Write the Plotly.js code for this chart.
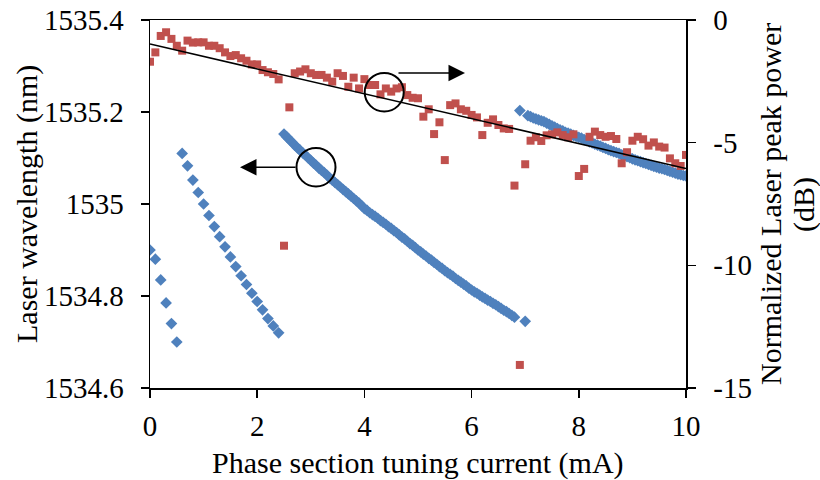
<!DOCTYPE html>
<html>
<head>
<meta charset="utf-8">
<script src="https://cdn.plot.ly/plotly-3.0.1.min.js"></script>
<style>
  html, body { margin: 0; padding: 0; background: #fff; }
  #chart { width: 820px; height: 480px; }
</style>
</head>
<body>
<div id="chart"></div>
<script>
// ---- Wavelength (left axis, nm), blue diamonds ----
const wlCurrent = [
  0.0, 0.1, 0.2, 0.3, 0.4, 0.5,
  0.6, 0.7, 0.8, 0.9, 1.0, 1.1, 1.2, 1.3, 1.4, 1.5, 1.6, 1.7, 1.8, 1.9, 2.0, 2.1, 2.2, 2.3, 2.4,
  2.50, 2.55, 2.60, 2.65, 2.70, 2.75, 2.80, 2.85, 2.90, 2.95, 3.00, 3.05, 3.10, 3.15, 3.20, 3.25,
  3.30, 3.35, 3.40, 3.45, 3.50, 3.55, 3.60, 3.65, 3.70, 3.75, 3.80, 3.85, 3.90, 3.95, 4.00, 4.05,
  4.10, 4.15, 4.20, 4.25, 4.30, 4.35, 4.40, 4.45, 4.50, 4.55, 4.60, 4.65, 4.70, 4.75, 4.80, 4.85,
  4.90, 4.95, 5.00, 5.05, 5.10, 5.15, 5.20, 5.25, 5.30, 5.35, 5.40, 5.45, 5.50, 5.55, 5.60, 5.65,
  5.70, 5.75, 5.80, 5.85, 5.90, 5.95, 6.00, 6.05, 6.10, 6.15, 6.20, 6.25, 6.30, 6.35, 6.40, 6.45,
  6.50, 6.55, 6.60, 6.65, 6.70, 6.75, 6.80,
  6.90, 7.00, 7.05, 7.10, 7.15, 7.20, 7.25, 7.30, 7.35, 7.40, 7.45, 7.50, 7.55, 7.60, 7.65, 7.70,
  7.75, 7.80, 7.85, 7.90, 7.95, 8.00, 8.05, 8.10, 8.15, 8.20, 8.25, 8.30, 8.35, 8.40, 8.45, 8.50,
  8.55, 8.60, 8.65, 8.70, 8.75, 8.80, 8.85, 8.90, 8.95, 9.00, 9.05, 9.10, 9.15, 9.20, 9.25, 9.30,
  9.35, 9.40, 9.45, 9.50, 9.55, 9.60, 9.65, 9.70, 9.75, 9.80, 9.85, 9.90, 9.95, 10.00
];
const wavelength = [
  1534.900, 1534.880, 1534.835, 1534.785, 1534.740, 1534.700,
  1535.110, 1535.083, 1535.052, 1535.025, 1535.000, 1534.975, 1534.951, 1534.929, 1534.907, 1534.885,
  1534.864, 1534.844, 1534.825, 1534.806, 1534.788, 1534.770, 1534.751, 1534.735, 1534.720,
  1535.152, 1535.146, 1535.140, 1535.134, 1535.128, 1535.122, 1535.117, 1535.111, 1535.106, 1535.100,
  1535.095, 1535.089, 1535.084, 1535.078, 1535.073, 1535.068, 1535.063, 1535.057, 1535.052, 1535.047,
  1535.042, 1535.037, 1535.032, 1535.027, 1535.022, 1535.017, 1535.012, 1535.007, 1535.002, 1534.996,
  1534.990, 1534.986, 1534.981, 1534.977, 1534.973, 1534.969, 1534.964, 1534.960, 1534.956, 1534.951,
  1534.947, 1534.942, 1534.938, 1534.933, 1534.928, 1534.924, 1534.919, 1534.914, 1534.910, 1534.905,
  1534.900, 1534.896, 1534.891, 1534.887, 1534.882, 1534.878, 1534.873, 1534.869, 1534.864, 1534.860,
  1534.855, 1534.851, 1534.847, 1534.843, 1534.838, 1534.834, 1534.830, 1534.826, 1534.822, 1534.817,
  1534.813, 1534.809, 1534.806, 1534.802, 1534.798, 1534.795, 1534.791, 1534.788, 1534.784, 1534.781,
  1534.777, 1534.773, 1534.769, 1534.766, 1534.762, 1534.758, 1534.754,
  1535.203, 1534.745, 1535.192, 1535.190, 1535.187, 1535.185, 1535.183, 1535.181, 1535.179, 1535.176,
  1535.173, 1535.170, 1535.167, 1535.164, 1535.161, 1535.159, 1535.156, 1535.154, 1535.152, 1535.149,
  1535.147, 1535.145, 1535.143, 1535.140, 1535.138, 1535.135, 1535.133, 1535.130, 1535.128, 1535.126,
  1535.123, 1535.121, 1535.118, 1535.116, 1535.114, 1535.112, 1535.110, 1535.107, 1535.105, 1535.103,
  1535.101, 1535.098, 1535.096, 1535.094, 1535.092, 1535.090, 1535.088, 1535.086, 1535.084, 1535.082,
  1535.080, 1535.078, 1535.077, 1535.075, 1535.073, 1535.071, 1535.069, 1535.067, 1535.065, 1535.064,
  1535.062, 1535.061
];

// ---- Normalized peak power (right axis, dB), red squares ----
const pwCurrent = [
  0.0, 0.1, 0.2, 0.3, 0.4, 0.5, 0.6, 0.7, 0.8, 0.9,
  1.0, 1.1, 1.2, 1.3, 1.4, 1.5, 1.6, 1.7, 1.8, 1.9,
  2.0, 2.1, 2.2, 2.3, 2.4, 2.5, 2.6, 2.7, 2.8, 2.9,
  3.0, 3.1, 3.2, 3.3, 3.4, 3.5, 3.6, 3.7, 3.8, 3.9,
  4.0, 4.1, 4.2, 4.3, 4.4, 4.5, 4.6, 4.7, 4.8, 4.9,
  5.0, 5.1, 5.2, 5.3, 5.4, 5.5, 5.6, 5.7, 5.8, 5.9,
  6.0, 6.1, 6.2, 6.3, 6.4, 6.5, 6.6, 6.7, 6.8, 6.9,
  7.0, 7.1, 7.2, 7.3, 7.4, 7.5, 7.6, 7.7, 7.8, 7.9,
  8.0, 8.1, 8.2, 8.3, 8.4, 8.5, 8.6, 8.7, 8.8, 8.9,
  9.0, 9.1, 9.2, 9.3, 9.4, 9.5, 9.6, 9.7, 9.8, 9.9, 10.0
];
const peakPower = [
  -1.70, -1.32, -0.65, -0.50, -0.77, -1.05, -1.25, -0.84, -0.92, -0.91,
  -0.91, -1.05, -1.05, -1.15, -1.32, -1.47, -1.43, -1.56, -1.66, -1.81,
  -1.81, -2.04, -2.13, -2.20, -2.42, -9.20, -3.56, -2.17, -2.10, -2.01,
  -2.17, -2.24, -2.24, -2.35, -2.51, -2.17, -2.28, -2.72, -2.35, -2.79,
  -2.41, -2.65, -2.65, -3.03, -2.79, -2.92, -2.79, -2.74, -3.06, -3.17,
  -3.19, -3.94, -3.64, -4.65, -4.17, -5.71, -3.47, -3.40, -3.64, -3.70,
  -3.87, -3.97, -4.69, -4.19, -4.05, -4.28, -4.42, -4.44, -6.75, -14.06,
  -5.88, -4.92, -4.78, -4.93, -4.70, -4.66, -4.58, -4.69, -4.78, -4.66,
  -6.36, -6.07, -4.76, -4.55, -4.69, -4.76, -4.73, -4.85, -5.84, -5.39,
  -4.92, -4.76, -4.86, -5.12, -4.99, -5.16, -5.20, -5.64, -5.84, -5.95, -5.50
];

// ---- Linear trend of peak power ----
const trendCurrent = [0, 10];
const trendPower = [-0.98, -6.05];

// ---- Axis ticks and titles ----
const xTicks = [0, 2, 4, 6, 8, 10];
const xTickText = ['0', '2', '4', '6', '8', '10'];
const wlTicks = [1534.6, 1534.8, 1535.0, 1535.2, 1535.4];
const wlTickText = ['1534.6', '1534.8', '1535', '1535.2', '1535.4'];
const pwTicks = [-15, -10, -5, 0];
const pwTickText = ['-15', '-10', '-5', '0'];
const xTitle = 'Phase section tuning current (mA)';
const yTitle = 'Laser wavelength (nm)';
const y2TitleLines = ['Normalized Laser peak power', '(dB)'];

const FONT = 'Liberation Serif, Times New Roman, serif';
const TICK_FS = 29;
const TITLE_FS = 30;
const titleFont = { family: FONT, size: TITLE_FS, color: '#000' };

const traces = [
  {
    x: wlCurrent, y: wavelength, type: 'scatter', mode: 'markers', yaxis: 'y',
    marker: { symbol: 'diamond', size: 9, color: '#4F81BD', line: { width: 0 } },
    showlegend: false, hoverinfo: 'skip'
  },
  {
    x: pwCurrent, y: peakPower, type: 'scatter', mode: 'markers', yaxis: 'y2',
    marker: { symbol: 'square', size: 8, color: '#C0504D', line: { width: 0 } },
    showlegend: false, hoverinfo: 'skip'
  },
  {
    x: trendCurrent, y: trendPower, type: 'scatter', mode: 'lines', yaxis: 'y2',
    line: { color: '#000', width: 1.5 },
    showlegend: false, hoverinfo: 'skip'
  }
];

const layout = {
  width: 820, height: 480,
  margin: { l: 150, r: 134, t: 20, b: 92 },
  paper_bgcolor: '#fff', plot_bgcolor: '#fff',
  font: { family: FONT, size: TICK_FS, color: '#000' },
  showlegend: false,
  xaxis: {
    range: [0, 10], tickvals: xTicks, ticktext: xTickText,
    showgrid: false, zeroline: false,
    showline: true, linecolor: '#000', linewidth: 1.5, mirror: true,
    ticks: 'outside', ticklen: 8, tickwidth: 1.5, tickcolor: '#000',
    tickfont: { family: FONT, size: TICK_FS, color: '#000' },
    ticklabelstandoff: 4
  },
  yaxis: {
    range: [1534.6, 1535.4], tickvals: wlTicks, ticktext: wlTickText,
    showgrid: false, zeroline: false,
    showline: true, linecolor: '#000', linewidth: 1.5,
    ticks: 'outside', ticklen: 8, tickwidth: 1.5, tickcolor: '#000',
    tickfont: { family: FONT, size: TICK_FS, color: '#000' },
    ticklabelstandoff: 11
  },
  yaxis2: {
    range: [-15, 0], tickvals: pwTicks, ticktext: pwTickText,
    overlaying: 'y', side: 'right',
    showgrid: false, zeroline: false,
    showline: true, linecolor: '#000', linewidth: 1.5,
    ticks: 'outside', ticklen: 8, tickwidth: 1.5, tickcolor: '#000',
    tickfont: { family: FONT, size: TICK_FS, color: '#000' },
    ticklabelstandoff: 12
  },
  shapes: [
    { type: 'circle', xref: 'x', yref: 'y', x0: 4.006, x1: 4.734, y0: 1535.201, y1: 1535.285,
      line: { color: '#000', width: 2 } },
    { type: 'circle', xref: 'x', yref: 'y', x0: 2.733, x1: 3.461, y0: 1535.038, y1: 1535.122,
      line: { color: '#000', width: 2 } }
  ],
  annotations: [
    { x: 5.877, y: 1535.285, ax: 4.608, ay: 1535.285, xref: 'x', yref: 'y', axref: 'x', ayref: 'y',
      text: '', showarrow: true, arrowhead: 2, arrowsize: 2.2, arrowwidth: 1.5, arrowcolor: '#000' },
    { x: 1.679, y: 1535.080, ax: 2.743, ay: 1535.080, xref: 'x', yref: 'y', axref: 'x', ayref: 'y',
      text: '', showarrow: true, arrowhead: 2, arrowsize: 2.2, arrowwidth: 1.5, arrowcolor: '#000' },
    { text: xTitle, xref: 'paper', yref: 'paper', x: 0.5, y: -0.204, xanchor: 'center', yanchor: 'middle',
      showarrow: false, font: titleFont },
    { text: yTitle, xref: 'paper', yref: 'paper', x: -0.2295, y: 0.5, xanchor: 'center', yanchor: 'middle',
      textangle: -90, showarrow: false, font: titleFont },
    { text: y2TitleLines[0], xref: 'paper', yref: 'paper', x: 1.1567, y: 0.5, xanchor: 'center', yanchor: 'middle',
      textangle: -90, showarrow: false, font: titleFont },
    { text: y2TitleLines[1], xref: 'paper', yref: 'paper', x: 1.2201, y: 0.5, xanchor: 'center', yanchor: 'middle',
      textangle: -90, showarrow: false, font: titleFont }
  ]
};

Plotly.newPlot('chart', traces, layout, { displayModeBar: false, staticPlot: true });
</script>
</body>
</html>
